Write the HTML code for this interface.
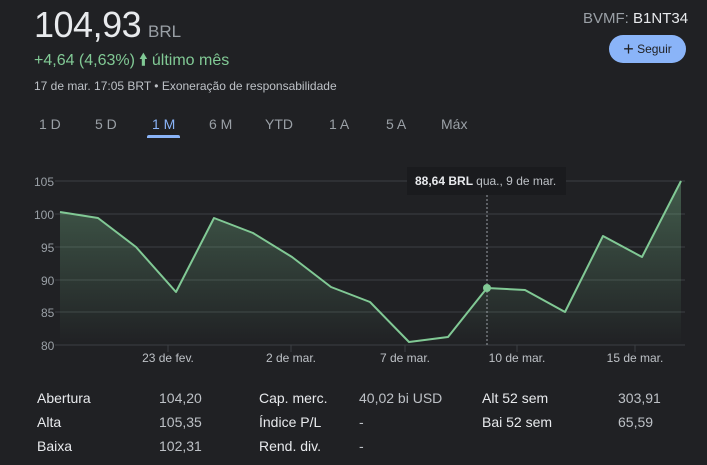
<!DOCTYPE html>
<html><head><meta charset="utf-8"><style>
body{margin:0;width:707px;height:465px;background:#202124;font-family:"Liberation Sans",Arial,sans-serif;overflow:hidden;position:relative;color:#e8eaed}
.a{position:absolute;white-space:nowrap}
</style></head><body>
<div class="a" style="left:34px;top:4px;font-size:36px;color:#e8eaed;letter-spacing:-0.5px">104,93</div>
<div class="a" style="left:148px;top:22px;font-size:17px;color:#9aa0a6">BRL</div>
<div class="a" style="left:34px;top:49px;font-size:16px;color:#81c995">+4,64 (4,63%) <span style="font-weight:bold">&#129049;</span> último mês</div>
<div class="a" style="left:34px;top:79px;font-size:12px;color:#bdc1c6">17 de mar. 17:05 BRT • Exoneração de responsabilidade</div>
<div class="a" style="left:583px;top:10px;font-size:15px;color:#9aa0a6">BVMF: <span style="color:#e8eaed">B1NT34</span></div>
<div class="a" style="left:609px;top:35px;width:77px;height:28px;border-radius:14px;background:#8ab4f8;color:#202124;font-size:12px;line-height:28px;text-align:center"><span style="font-size:18px;vertical-align:-2px">+</span> Seguir</div>
<div class="a" style="top:116px;font-size:14px;color:#9aa0a6;left:0;width:707px;height:24px">
<span class="a" style="left:39px">1 D</span><span class="a" style="left:95px">5 D</span><span class="a" style="left:152px;color:#8ab4f8">1 M</span><span class="a" style="left:209px">6 M</span><span class="a" style="left:265px">YTD</span><span class="a" style="left:329px">1 A</span><span class="a" style="left:386px">5 A</span><span class="a" style="left:441px">Máx</span>
</div>
<div class="a" style="left:147px;top:135px;width:33px;height:3px;background:#8ab4f8;border-radius:2px 2px 0 0"></div>
<svg class="a" style="left:0;top:0" width="707" height="465">
<defs><linearGradient id="g" x1="0" y1="0" x2="0" y2="1"><stop offset="0" stop-color="#81c995" stop-opacity="0.35"/><stop offset="1" stop-color="#81c995" stop-opacity="0"/></linearGradient></defs>
<g stroke="#3c4043" stroke-width="1">
<line x1="55" y1="181" x2="685" y2="181"/><line x1="55" y1="214" x2="685" y2="214"/><line x1="55" y1="247" x2="685" y2="247"/><line x1="55" y1="280" x2="685" y2="280"/><line x1="55" y1="312" x2="685" y2="312"/><line x1="55" y1="345" x2="685" y2="345"/>
<line x1="168" y1="345" x2="168" y2="352"/><line x1="291" y1="345" x2="291" y2="352"/><line x1="405" y1="345" x2="405" y2="352"/><line x1="517" y1="345" x2="517" y2="352"/><line x1="635" y1="345" x2="635" y2="352"/>
</g>
<g fill="#9aa0a6" font-size="12" font-family="Liberation Sans,Arial,sans-serif">
<text x="34" y="186">105</text><text x="34" y="219">100</text><text x="41" y="252">95</text><text x="41" y="285">90</text><text x="41" y="317">85</text><text x="41" y="350">80</text>
</g>
<g fill="#bdc1c6" font-size="12" font-family="Liberation Sans,Arial,sans-serif" text-anchor="middle">
<text x="168" y="362">23 de fev.</text><text x="291" y="362">2 de mar.</text><text x="405" y="362">7 de mar.</text><text x="517" y="362">10 de mar.</text><text x="635" y="362">15 de mar.</text>
</g>
<polygon fill="url(#g)" points="60,212 98,218 136,247 176,292 214,218 253,233 292,257 331,287 370,302 409,342 448,337 487,288 525,290 565,312 603,236 642,257 681,181 681,345 60,345"/>
<polyline fill="none" stroke="#81c995" stroke-width="2" stroke-linejoin="round" points="60,212 98,218 136,247 176,292 214,218 253,233 292,257 331,287 370,302 409,342 448,337 487,288 525,290 565,312 603,236 642,257 681,181"/>
<line x1="487" y1="195" x2="487" y2="345" stroke="#9aa0a6" stroke-dasharray="2,2" stroke-width="1"/>
<circle cx="487" cy="288" r="4" fill="#81c995"/>
<rect x="407" y="167" width="159" height="28" fill="#1a1b1e"/>
<text x="415" y="185" fill="#e8eaed" font-size="12" font-weight="bold" font-family="Liberation Sans,Arial,sans-serif">88,64 BRL <tspan font-weight="normal" fill="#bdc1c6"> qua., 9 de mar.</tspan></text>
</svg>
<div class="a" style="top:386px;left:0;width:707px;font-size:14px;line-height:24px">
<div class="a" style="left:37px;color:#e8eaed">Abertura<br>Alta<br>Baixa</div>
<div class="a" style="left:159px;color:#bdc1c6">104,20<br>105,35<br>102,31</div>
<div class="a" style="left:259px;color:#e8eaed">Cap. merc.<br>Índice P/L<br>Rend. div.</div>
<div class="a" style="left:359px;color:#bdc1c6">40,02 bi USD<br>-<br>-</div>
<div class="a" style="left:482px;color:#e8eaed">Alt 52 sem<br>Bai 52 sem</div>
<div class="a" style="left:618px;color:#bdc1c6">303,91<br>65,59</div>
</div>
</body></html>
